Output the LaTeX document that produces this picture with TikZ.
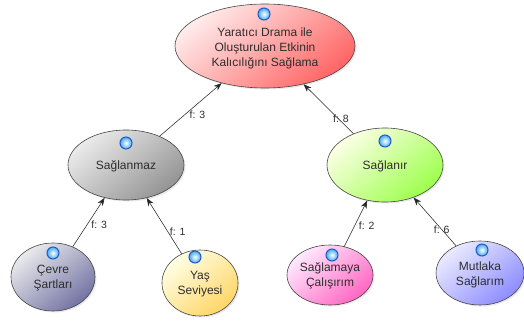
\documentclass[tikz,border=0pt]{standalone}
\usepackage{fontspec}
\setmainfont{Liberation Sans}
\usetikzlibrary{shapes.geometric,shadows,arrows.meta}

\definecolor{txt}{RGB}{45,45,45}
\definecolor{edgegray}{RGB}{70,70,70}
\definecolor{beadring}{RGB}{30,90,200}
\definecolor{beadfill}{RGB}{70,170,240}

\tikzset{
  concept/.style={ellipse, draw=edgegray, line width=0.6pt, align=center,
    font=\fontsize{12}{15}\selectfont, text=txt, inner sep=0pt,
    drop shadow={opacity=0.18, shadow xshift=1.5pt, shadow yshift=-1.5pt}},
  tint/.style 2 args={top color=#1, bottom color=#2, shading angle=40},
  bead/.style={circle, minimum size=12pt, inner sep=0pt, draw=beadring,
    line width=1pt, inner color=white, outer color=beadfill},
  link/.style={draw=black!85, line width=0.55pt, -{Stealth[length=8pt,width=6pt]}},
  weight/.style={font=\fontsize{10.5}{12}\selectfont, text=txt, inner sep=1pt}
}

\begin{document}
\begin{tikzpicture}[x=1pt,y=-1pt]
\useasboundingbox (0,0) rectangle (524,326);

% concept ellipses
\node[concept, tint={red!8}{red!60}, minimum width=180pt, minimum height=84pt]
  (goal) at (265,46) {\\[-2pt]Yaratıcı Drama ile\\Oluşturulan Etkinin\\Kalıcılığını Sağlama};
\node[concept, tint={black!8}{black!42}, minimum width=116pt, minimum height=70pt]
  (no) at (126,165) {\\[-4pt]Sağlanmaz};
\node[concept, tint={green!12!yellow!10}{green!55!yellow!70}, minimum width=116pt, minimum height=74pt]
  (yes) at (385,165) {\\[-4pt]Sağlanır};
\node[concept, tint={blue!12!black!8}{blue!35!black!55}, minimum width=84pt, minimum height=68pt]
  (env) at (53,277) {\\[-4pt]Çevre\\Şartları};
\node[concept, tint={yellow!10}{orange!55!yellow!60}, minimum width=76pt, minimum height=66pt]
  (age) at (200,283) {\\[-4pt]Yaş\\Seviyesi};
\node[concept, tint={magenta!8}{magenta!60!red!60}, minimum width=86pt, minimum height=60pt]
  (try) at (330,275) {\\[-4pt]Sağlamaya\\Çalışırım};
\node[concept, tint={blue!8}{blue!45}, minimum width=88pt, minimum height=64pt]
  (sure) at (480,273) {\\[-2pt]Mutlaka\\Sağlarım};

% status beads
\node[bead] (bgoal) at (264,14) {};
\node[bead] (bno) at (126,143) {};
\node[bead] (byes) at (385,141) {};
\node[bead] (benv) at (53,253) {};
\node[bead] (bage) at (195,257) {};
\node[bead] (btry) at (332,255) {};
\node[bead] (bsure) at (482,250) {};

% weighted links
\draw[link] (no) -- node[weight, pos=0.4, right=4pt] {f: 3} (goal);
\draw[link] (yes) -- node[weight, pos=0.31, xshift=3pt] {f: 8} (goal);
\draw[link] (env) -- node[weight, pos=0.45, right=3pt] {f: 3} (no);
\draw[link] (age) -- node[weight, pos=0.4, right=1pt] {f: 1} (no);
\draw[link] (try) -- node[weight, pos=0.45, right=3pt] {f: 2} (yes);
\draw[link] (sure) -- node[weight, pos=0.34] {f: 6} (yes);
\end{tikzpicture}
\end{document}
